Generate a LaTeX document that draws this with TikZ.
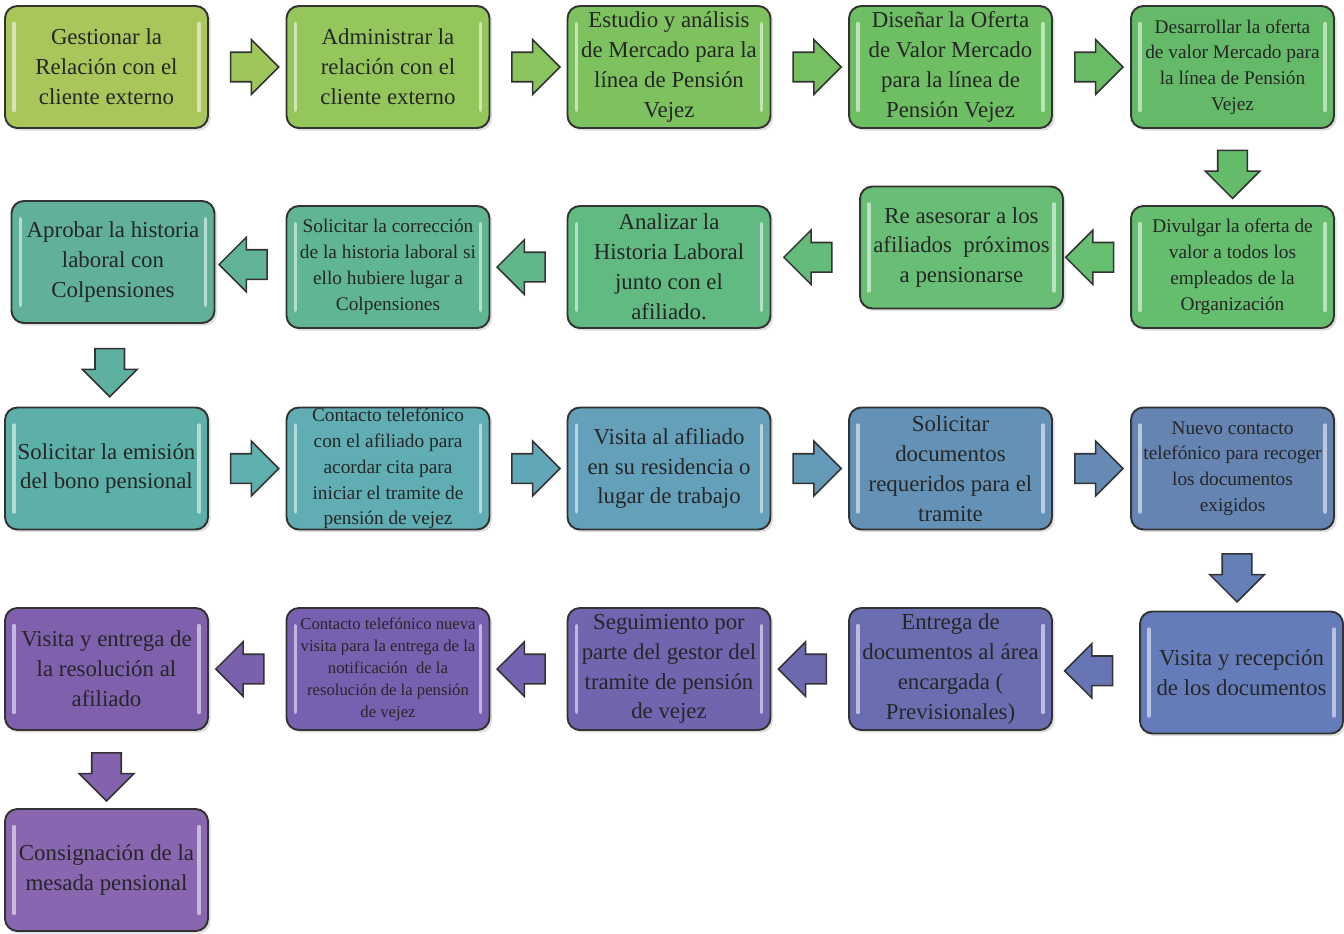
\documentclass[tikz,border=0pt]{standalone}
\usepackage{fontspec}
\setmainfont{Liberation Serif}
\usetikzlibrary{shapes.arrows, calc, shadows}

% colores de las etapas
\definecolor{col1}{RGB}{168,198,90}
\definecolor{col2}{RGB}{148,198,92}
\definecolor{col3}{RGB}{126,194,96}
\definecolor{col4}{RGB}{110,190,100}
\definecolor{col5}{RGB}{100,186,104}
\definecolor{col6}{RGB}{100,190,110}
\definecolor{col7}{RGB}{104,190,116}
\definecolor{col8}{RGB}{96,186,130}
\definecolor{col9}{RGB}{96,182,146}
\definecolor{col10}{RGB}{96,176,154}
\definecolor{col11}{RGB}{92,176,168}
\definecolor{col12}{RGB}{96,174,180}
\definecolor{col13}{RGB}{100,160,186}
\definecolor{col14}{RGB}{100,146,182}
\definecolor{col15}{RGB}{102,132,178}
\definecolor{col16}{RGB}{100,124,186}
\definecolor{col17}{RGB}{106,110,176}
\definecolor{col18}{RGB}{112,102,176}
\definecolor{col19}{RGB}{120,96,176}
\definecolor{col20}{RGB}{126,96,172}
\definecolor{col21}{RGB}{136,102,176}

\tikzset{
    txtL/.style={font=\fontsize{13}{17}\selectfont},
    txtM/.style={font=\fontsize{11}{14.7}\selectfont},
    txtS/.style={font=\fontsize{9.5}{12.5}\selectfont},
}

\begin{document}
\begin{tikzpicture}[x=0.02cm, y=-0.02cm,
    paso/.style={draw=black!80, line width=1.1pt, rounded corners=7pt,
        minimum width=4.06cm, minimum height=2.44cm, inner sep=0pt,
        align=center, text=black!85,
        drop shadow={opacity=0.25, shadow xshift=1.5pt, shadow yshift=-1.5pt},
        path picture={
            \draw[white, opacity=0.55, line width=2pt, line cap=round]
            ([xshift=5pt,yshift=-10pt]path picture bounding box.north west) --
            ([xshift=5pt,yshift=10pt]path picture bounding box.south west)
            ([xshift=-5pt,yshift=-10pt]path picture bounding box.north east) --
            ([xshift=-5pt,yshift=10pt]path picture bounding box.south east);
        }},
    flecha/.style={single arrow, draw=black!80, line width=0.9pt,
        minimum height=0.96cm, minimum width=0.98cm, inner sep=0.28cm}]

    \useasboundingbox (0,0) rectangle (1344,933);

    % fila 1
    \node[paso, fill=col1, txtL] (n1) at (106.5,67) {Gestionar la\\Relación con el\\cliente externo};
    \node[paso, fill=col2, txtL] (n2) at (388,67) {Administrar la\\relación con el\\cliente externo};
    \node[paso, fill=col3, txtL] (n3) at (669,67) {Estudio y análisis\\de Mercado para la\\línea de Pensión\\Vejez};
    \node[paso, fill=col4, txtL] (n4) at (950.5,67) {Diseñar la Oferta\\de Valor Mercado\\para la línea de\\Pensión Vejez};
    \node[paso, fill=col5, txtM] (n5) at (1232.5,67) {Desarrollar la oferta\\de valor Mercado para\\la línea de Pensión\\Vejez};

    % fila 2
    \node[paso, fill=col6, txtM] (n6) at (1232.5,267) {Divulgar la oferta de\\valor a todos los\\empleados de la\\Organización};
    \node[paso, fill=col7, txtL] (n7) at (961.5,247.5) {Re asesorar a los\\afiliados~ próximos\\a pensionarse};
    \node[paso, fill=col8, txtL] (n8) at (669,267) {Analizar la\\Historia Laboral\\junto con el\\afiliado.};
    \node[paso, fill=col9, txtM] (n9) at (388,267) {Solicitar la corrección\\de la historia laboral si\\ello hubiere lugar a\\Colpensiones};
    \node[paso, fill=col10, txtL] (n10) at (113,262) {Aprobar la historia\\laboral con\\Colpensiones};

    % fila 3
    \node[paso, fill=col11, txtL] (n11) at (106.5,468.5) {Solicitar la emisión\\del bono pensional};
    \node[paso, fill=col12, txtM] (n12) at (388,468.5) {Contacto telefónico\\con el afiliado para\\acordar cita para\\iniciar el tramite de\\pensión de vejez};
    \node[paso, fill=col13, txtL] (n13) at (669,468.5) {Visita al afiliado\\en su residencia o\\lugar de trabajo};
    \node[paso, fill=col14, txtL] (n14) at (950.5,468.5) {Solicitar\\documentos\\requeridos para el\\tramite};
    \node[paso, fill=col15, txtM] (n15) at (1232.5,468.5) {Nuevo contacto\\telefónico para recoger\\los documentos\\exigidos};

    % fila 4
    \node[paso, fill=col16, txtL] (n16) at (1241.5,672.5) {Visita y recepción\\de los documentos};
    \node[paso, fill=col17, txtL] (n17) at (950.5,669) {Entrega de\\documentos al área\\encargada (\\Previsionales)};
    \node[paso, fill=col18, txtL] (n18) at (669,669) {Seguimiento por\\parte del gestor del\\tramite de pensión\\de vejez};
    \node[paso, fill=col19, txtS] (n19) at (388,669) {Contacto telefónico nueva\\visita para la entrega de la\\notificación~ de la\\resolución de la pensión\\de vejez};
    \node[paso, fill=col20, txtL] (n20) at (106.5,669) {Visita y entrega de\\la resolución al\\afiliado};

    % fila 5
    \node[paso, fill=col21, txtL] (n21) at (106.5,870) {Consignación de la\\mesada pensional};

    % flechas entre etapas
    \foreach \i/\j/\r in {1/2/0, 2/3/0, 3/4/0, 4/5/0, 5/6/270, 6/7/180, 7/8/180, 8/9/180,
        9/10/180, 10/11/270, 11/12/0, 12/13/0, 13/14/0, 14/15/0, 15/16/270,
        16/17/180, 17/18/180, 18/19/180, 19/20/180, 20/21/270}
        \node[flecha, shape border rotate=\r, fill=col\i!50!col\j] (f\i) at ($(n\i)!0.5!(n\j)$) {};
\end{tikzpicture}
\end{document}
